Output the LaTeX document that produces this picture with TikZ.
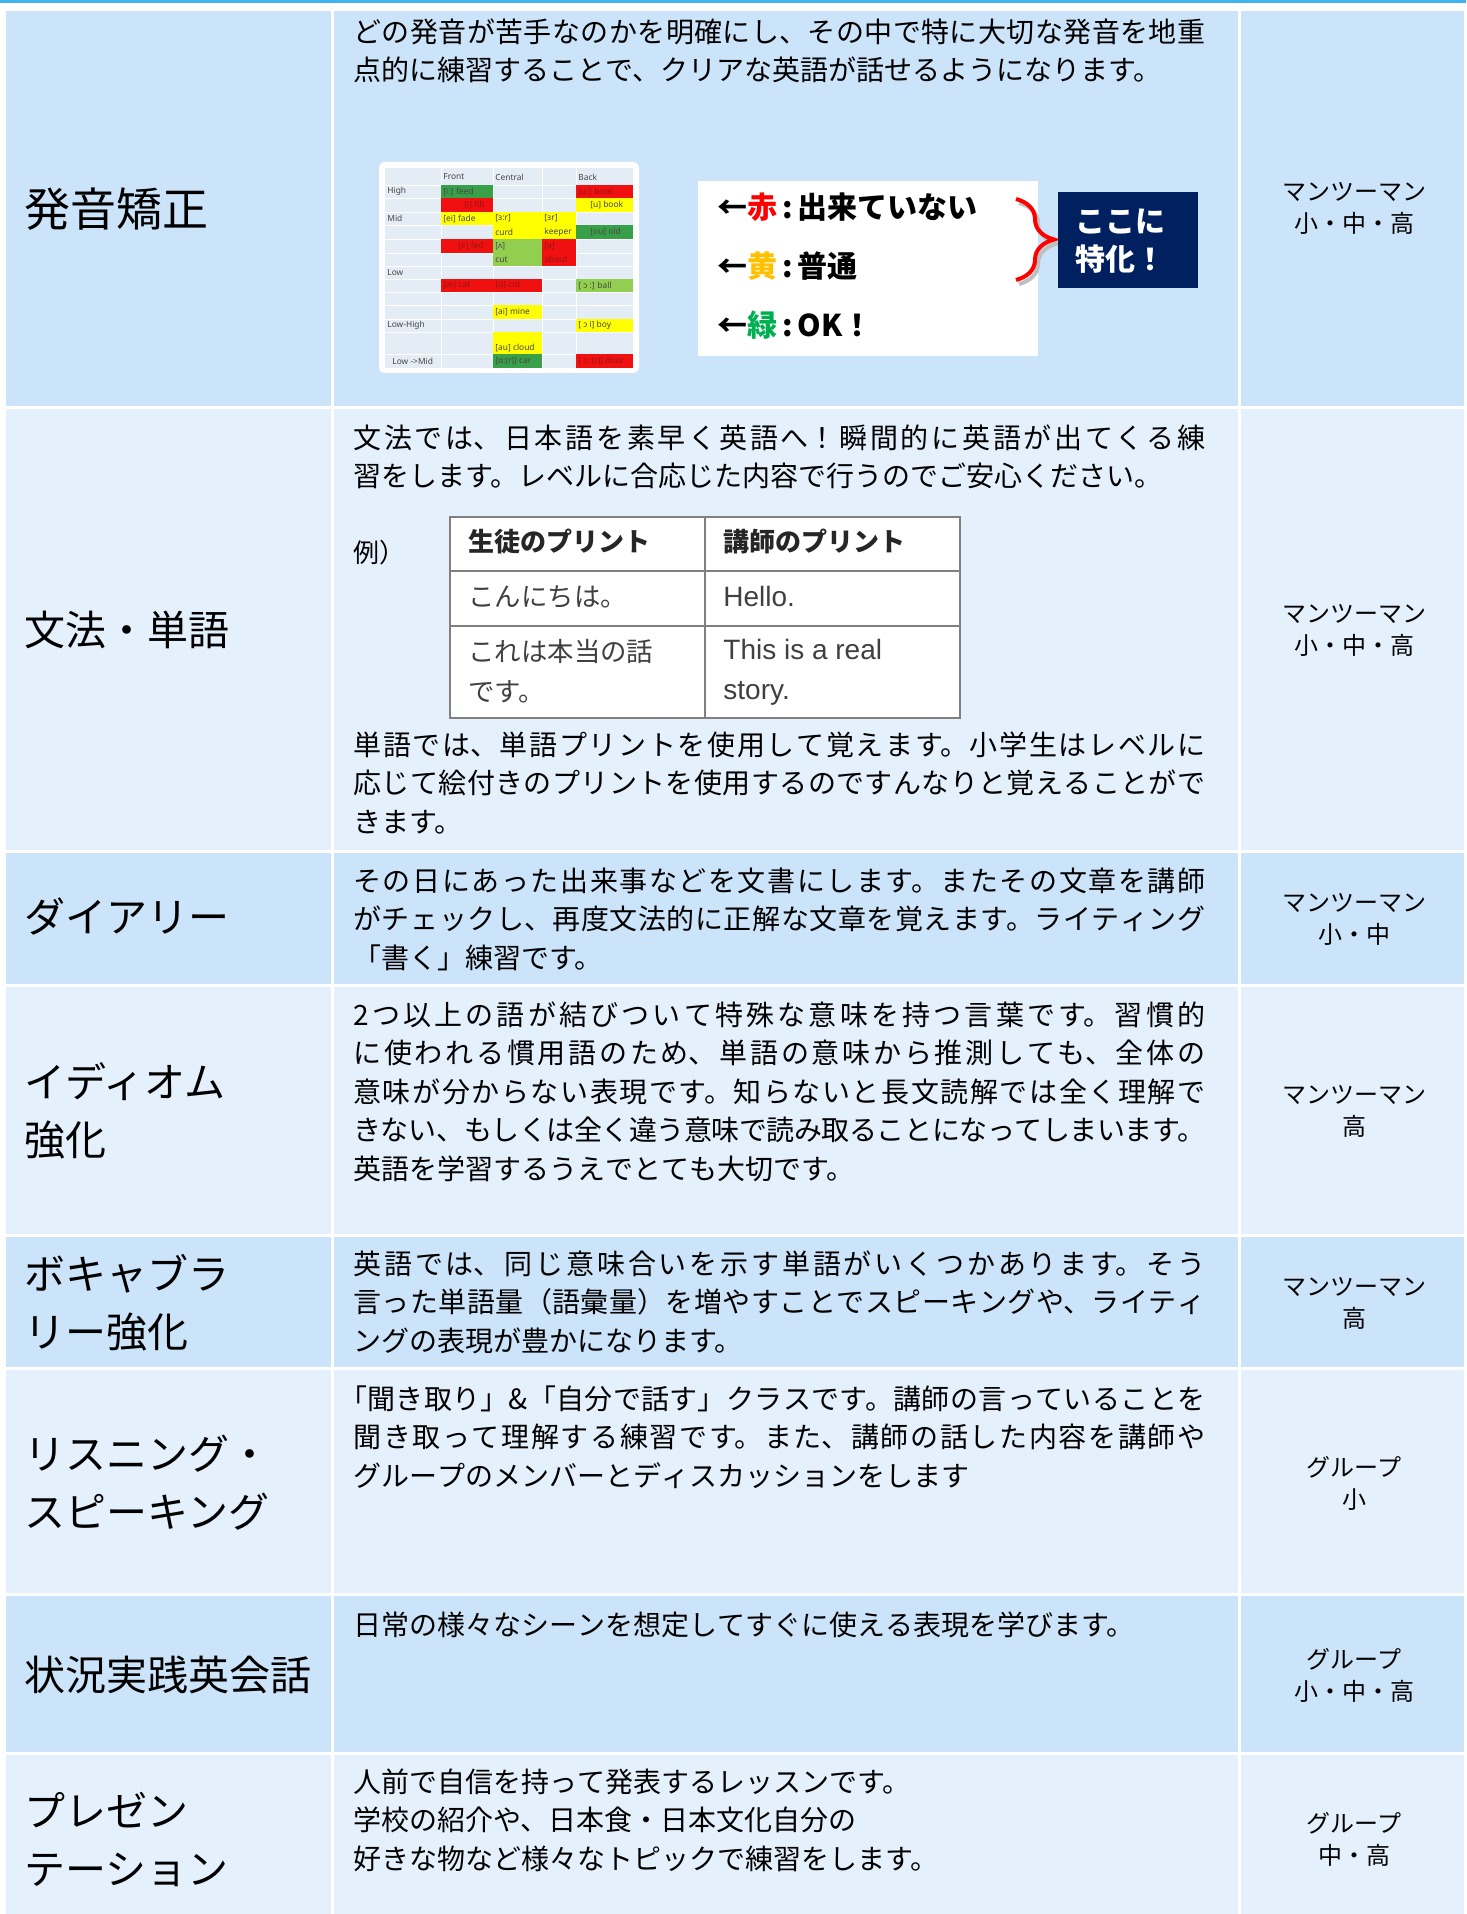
\documentclass[tikz,border=0pt]{standalone}
\usepackage{fontspec}
\setmainfont{Noto Sans CJK JP}
\newfontfamily\latinfont{Liberation Sans}
\newfontfamily\chartfont{Noto Sans}
\XeTeXlinebreaklocale "ja"
\XeTeXlinebreakskip=0pt plus 4pt minus 0.5pt
\usetikzlibrary{decorations.pathreplacing}

\definecolor{rowdark}{RGB}{204,228,250}
\definecolor{rowlight}{RGB}{228,241,253}
\definecolor{topline}{RGB}{64,178,240}
\definecolor{navybox}{RGB}{0,32,96}
\definecolor{chartbg}{RGB}{228,236,246}
\definecolor{cgreen}{RGB}{56,160,72}
\definecolor{clgreen}{RGB}{146,206,80}
\definecolor{cred}{RGB}{240,16,16}
\definecolor{cyellow}{RGB}{255,255,0}
\definecolor{chdark}{RGB}{70,70,70}
\definecolor{chred}{RGB}{150,20,20}
\definecolor{kiiro}{RGB}{255,192,0}
\definecolor{midori}{RGB}{0,176,80}
\definecolor{tabgray}{RGB}{128,128,128}
\definecolor{tabtext}{RGB}{64,64,64}

\begin{document}
\begin{tikzpicture}[x=0.5pt,y=-0.5pt,
    head/.style={anchor=west,align=left,inner sep=0pt,font=\fontsize{20.5}{29}\selectfont},
    body/.style={anchor=north west,text width=426pt,align=justify,inner sep=0pt,
      font=\fontsize{14}{19.25}\selectfont,execute at begin node=\strut},
    who/.style={align=center,inner sep=0pt,font=\fontsize{12}{16}\selectfont},
    tab/.style={anchor=north west,align=left,inner sep=0pt,text=tabtext,
      font=\fontsize{13.2}{20}\selectfont,execute at begin node=\strut},
    tablatin/.style={tab,font=\latinfont\fontsize{14}{20}\selectfont},
    tabhead/.style={tab,text=black!85,font=\bfseries\fontsize{13}{20}\selectfont},
    chtxt/.style={anchor=west,inner sep=0pt,font=\chartfont\fontsize{4.2}{5}\selectfont},
    legend/.style={anchor=west,align=left,inner sep=0pt,font=\bfseries\fontsize{15}{19}\selectfont},
    bracered/.style={draw=red,line width=2pt,decorate,decoration={brace,amplitude=19pt}}]

  \useasboundingbox (0,0) rectangle (1466,1914);
  \fill[white] (0,0) rectangle (1466,1914);
  \fill[topline] (0,0) rectangle (1466,3);

  % table cells, one row at a time
  \foreach \t/\b/\c in {10/408/rowdark,408/851/rowlight,851/985/rowdark,985/1235/rowlight,
                        1235/1368/rowdark,1368/1594/rowlight,1594/1753/rowdark,1753/1916/rowlight}{
    \fill[\c] (6,{\t+1.5}) rectangle (331,{\b-1.5});
    \fill[\c] (334,{\t+1.5}) rectangle (1238,{\b-1.5});
    \fill[\c] (1241,{\t+1.5}) rectangle (1464,{\b-1.5});
  };

  % left column
  \node[head,font=\fontsize{23}{29}\selectfont] (hHatsuon) at (24,209) {発音矯正};
  \node[head] (hBunpo) at (24,630) {文法・単語};
  \node[head] (hDiary) at (24,917) {ダイアリー};
  \node[head] (hIdiom) at (24,1111) {イディオム\\強化};
  \node[head] (hVocab) at (24,1303) {ボキャブラ\\リー強化};
  \node[head] (hListen) at (24,1483) {リスニング・\\スピーキング};
  \node[head] (hKaiwa) at (24,1675) {状況実践英会話};
  \node[head] (hPresen) at (24,1839) {プレゼン\\テーション};

  % right column
  \node[who] (wHatsuon) at (1354,208) {マンツーマン\\小・中・高};
  \node[who] (wBunpo) at (1354,630) {マンツーマン\\小・中・高};
  \node[who] (wDiary) at (1354,919) {マンツーマン\\小・中};
  \node[who] (wIdiom) at (1354,1111) {マンツーマン\\高};
  \node[who] (wVocab) at (1354,1303) {マンツーマン\\高};
  \node[who] (wListen) at (1354,1483) {グループ\\小};
  \node[who] (wKaiwa) at (1354,1675) {グループ\\小・中・高};
  \node[who] (wPresen) at (1354,1839) {グループ\\中・高};

  % middle column
  \node[body] (tHatsuon) at (353,15) {どの発音が苦手なのかを明確にし、その中で特に大切な発音を地重\linebreak 点的に練習することで、クリアな英語が話せるようになります。};
  \node[body] (tBunpo) at (353,421) {文法では、日本語を素早く英語へ！瞬間的に英語が出てくる練\linebreak 習をします。レベルに合応じた内容で行うのでご安心ください。};
  \node[body] (tTango) at (353,728) {単語では、単語プリントを使用して覚えます。小学生はレベルに\linebreak 応じて絵付きのプリントを使用するのですんなりと覚えることがで\linebreak きます。};
  \node[body] (tDiary) at (353,864) {その日にあった出来事などを文書にします。またその文章を講師\linebreak がチェックし、再度文法的に正解な文章を覚えます。ライティング\linebreak \kern-0.5em「書く」練習です。};
  \node[body] (tIdiom) at (353,998) {2つ以上の語が結びついて特殊な意味を持つ言葉です。習慣的\linebreak に使われる慣用語のため、単語の意味から推測しても、全体の\linebreak 意味が分からない表現です。知らないと長文読解では全く理解で\linebreak きない、もしくは全く違う意味で読み取ることになってしまいます。\linebreak 英語を学習するうえでとても大切です。};
  \node[body] (tVocab) at (353,1247) {英語では、同じ意味合いを示す単語がいくつかあります。そう\linebreak 言った単語量（語彙量）を増やすことでスピーキングや、ライティ\linebreak ングの表現が豊かになります。};
  \node[body] (tListen) at (353,1382) {\kern-0.5em「聞き取り」\&「自分で話す」クラスです。講師の言っていることを\linebreak 聞き取って理解する練習です。また、講師の話した内容を講師や\linebreak グループのメンバーとディスカッションをします};
  \node[body] (tKaiwa) at (353,1608) {日常の様々なシーンを想定してすぐに使える表現を学びます。};
  \node[body] (tPresen) at (353,1765) {人前で自信を持って発表するレッスンです。\\学校の紹介や、日本食・日本文化自分の\\好きな物など様々なトピックで練習をします。};

  % example table in the grammar row
  \fill[white] (450,517) rectangle (960,718);
  \draw[tabgray,line width=1pt] (450,517) rectangle (960,718)
    (705,517) -- (705,718) (450,571) -- (960,571) (450,626) -- (960,626);
  \node[tab,text=black,font=\fontsize{13}{20}\selectfont] (rei) at (353,534) {例）};
  \node[tabhead] (tabSeito) at (468,523) {生徒のプリント};
  \node[tabhead] (tabKoshi) at (723,523) {講師のプリント};
  \node[tab] (tabKonnichiwa) at (468,578) {こんにちは。};
  \node[tablatin] (tabHello) at (723,578) {Hello.};
  \node[tab] (tabHonto) at (468,639) {これは本当の話\\です。};
  \node[tablatin] (tabStory) at (723,639) {This is a real\\story.};

  % vowel chart
  \fill[white,rounded corners=3pt] (379,162) rectangle (639,373);
  \fill[chartbg] (385,168) rectangle (633,368);
  \foreach \ya in {185,198,212,225,239,253,266,279,292,305,319,332,354}
    \draw[white,line width=0.4pt] (385,\ya) -- (633,\ya);
  \foreach \xa in {441,493,542,576}
    \draw[white,line width=0.4pt] (\xa,168) -- (\xa,368);
  \foreach \xa/\xb/\ya/\yb/\c in {441/493/185/198/cgreen,576/633/185/198/cred,
      441/493/198/212/cred,576/633/198/212/cyellow,
      441/493/212/225/cyellow,493/542/212/225/cyellow,542/576/212/225/cyellow,
      493/542/225/239/cyellow,542/576/225/239/cyellow,576/633/225/239/cgreen,
      441/493/239/253/cred,493/542/239/253/clgreen,542/576/239/253/cred,
      493/542/253/266/clgreen,542/576/253/266/cred,
      441/493/279/292/cred,493/542/279/292/cred,576/633/279/292/clgreen,
      493/542/305/319/cyellow,576/633/319/332/cyellow,493/542/332/354/cyellow,
      493/542/354/368/cgreen,576/633/354/368/cred}
    \fill[\c] (\xa,\ya) rectangle (\xb,\yb);
  \foreach \xa/\ya/\s/\c [count=\i] in {443/177/{Front}/chdark,495/177/{Central}/chdark,578/177/{Back}/chdark,
      387/191.5/{High}/chdark,387/218.5/{Mid}/chdark,387/272.5/{Low}/chdark,
      387/325.5/{Low-High}/chdark,392/361/{Low ->Mid}/chdark,
      443/191.5/{[i:] feed}/chdark,578/191.5/{[u:] boot}/chred,
      464/205/{[i] fib}/chred,590/205/{[u] book}/chdark,
      443/218.5/{[ei] fade}/chdark,495/218.5/{[ɜ:r]}/chdark,544/218.5/{[ɜr]}/chdark,
      495/232/{curd}/chdark,544/232/{keeper}/chdark,590/232/{[ou] old}/chdark,
      458/246/{[e] fed}/chred,495/246/{[ʌ]}/chdark,544/246/{[ə]}/chred,
      495/259.5/{cut}/chdark,544/259.5/{about}/chred,
      443/285.5/{[æ] cat}/chred,495/285.5/{[ɑ] cot}/chred,578/285.5/{[ ɔ :] ball}/chdark,
      495/312/{[ai] mine}/chdark,578/325.5/{[ ɔ i] boy}/chdark,495/348/{[au] cloud}/chdark,
      495/361/{[ɑ:(r)] car}/chdark,578/361/{[ ɔ :(r)] door}/chred}
    \node[chtxt,text=\c] (ph\i) at (\xa,\ya) {\s};

  % colour key
  \fill[white] (698,181) rectangle (1038,356);
  \node[legend] (keyAka) at (717,207) {←\textcolor{red}{赤}\,:\,出来ていない};
  \node[legend] (keyKi) at (717,266) {←\textcolor{kiiro}{黄}\,:\,普通};
  \node[legend] (keyMidori) at (717,325) {←\textcolor{midori}{緑}\,:\,OK！};
  \draw[bracered,draw=black!25,shift={(3,4)}] (1016,199) -- (1016,280);
  \draw[bracered] (1016,199) -- (1016,280);
  \fill[navybox] (1058,192) rectangle (1198,288);
  \node[legend,text=white] (tokka) at (1075,241) {ここに\\特化！};
\end{tikzpicture}
\end{document}
